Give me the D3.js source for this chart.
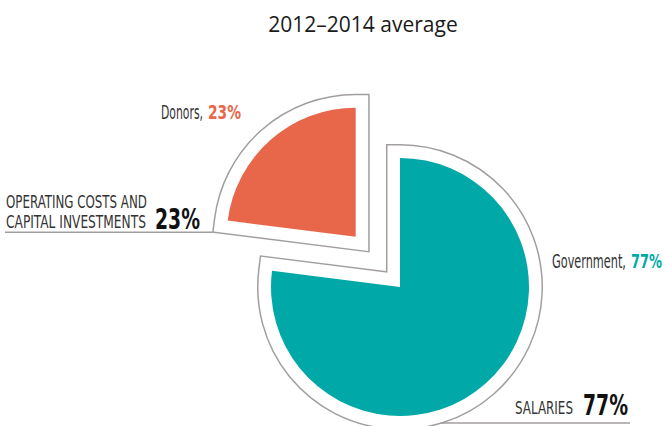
<!DOCTYPE html>
<html>
<head>
<meta charset="utf-8">
<script src="https://cdn.jsdelivr.net/npm/d3@7"></script>
<style>
  body { margin: 0; background: #fff; }
  .cond { font-family: "Liberation Sans Narrow", "DejaVu Sans Condensed", "Roboto", sans-serif; font-stretch: condensed; }
</style>
</head>
<body>
<div id="chart"></div>
<script>
// data
const sources = ['Government', 'Donors'];
const shares = [77, 23];
const uses = ['SALARIES', 'OPERATING COSTS AND CAPITAL INVESTMENTS'];
const colors = ['#00a9a8', '#e8674a'];
const explode = [0, 67];

const width = 666, height = 426;
const cx = 400, cy = 287, radius = 129;
const gap = 12.5;

const svg = d3.select('#chart').append('svg')
  .attr('width', width)
  .attr('height', height);

svg.append('text')
  .attr('x', 363).attr('y', 32)
  .attr('text-anchor', 'middle')
  .attr('font-family', '"Open Sans", sans-serif')
  .attr('font-size', 21)
  .attr('fill', '#1a1a1a')
  .text('2012\u20132014 average');

const pie = d3.pie().sort(null).value(d => d);
const arc = d3.arc().innerRadius(0).outerRadius(radius);
const arcs = pie(shares);

const g = svg.append('g').attr('transform', `translate(${cx},${cy})`);

const slice = g.selectAll('.slice')
  .data(arcs)
  .enter().append('g')
  .attr('class', 'slice')
  .attr('transform', (d, i) => {
    const mid = (d.startAngle + d.endAngle) / 2;
    return `translate(${Math.sin(mid) * explode[i]},${-Math.cos(mid) * explode[i]})`;
  });

// outline ring: grey stroke, white stroke on top, then the fill
slice.append('path')
  .attr('d', arc)
  .attr('fill', 'none')
  .attr('stroke', '#a39e9e')
  .attr('stroke-width', 2 * gap + 3)
  .attr('stroke-linejoin', 'miter')
  .attr('stroke-miterlimit', 10);
slice.append('path')
  .attr('d', arc)
  .attr('fill', 'none')
  .attr('stroke', '#fff')
  .attr('stroke-width', 2 * gap)
  .attr('stroke-linejoin', 'miter')
  .attr('stroke-miterlimit', 10);
slice.append('path')
  .attr('d', arc)
  .attr('fill', (d, i) => colors[i]);

// leader lines
const lineColor = '#a39e9e';
const don = arcs[1];
// salaries: along bottom of government outline
const yS = 423;
const dxS = Math.sqrt((radius + gap + 1) ** 2 - (yS - cy) ** 2);
svg.append('line')
  .attr('x1', cx + dxS - 2).attr('y1', yS)
  .attr('x2', 630).attr('y2', yS)
  .attr('stroke', lineColor).attr('stroke-width', 1.5);

// operating costs: left from donors outline corner
const midD = (don.startAngle + don.endAngle) / 2;
const ox = cx + Math.sin(midD) * explode[1], oy = cy - Math.cos(midD) * explode[1];
const a0 = don.startAngle;
const R = radius + gap + 1;
const px = ox + R * Math.sin(a0) - (gap + 1) * Math.cos(a0);
const py = oy - R * Math.cos(a0) - (gap + 1) * Math.sin(a0);
svg.append('line')
  .attr('x1', 5).attr('y1', py)
  .attr('x2', px).attr('y2', py)
  .attr('stroke', lineColor).attr('stroke-width', 1.5);

// labels: squeeze horizontally to imitate a condensed face
function label(x, y, txt, len, size, weight, fill) {
  const grp = svg.append('g');
  const t = grp.append('text')
    .attr('class', 'cond')
    .attr('font-size', size)
    .attr('font-weight', weight)
    .attr('fill', fill)
    .text(txt);
  const natural = t.node().getComputedTextLength();
  grp.attr('transform', `translate(${x},${y}) scale(${len / natural},1)`);
  return grp;
}

label(161, 119, sources[1] + ',', 42, 19, 'normal', '#333');
label(208, 119, shares[1] + '%', 33, 19, 'bold', colors[1]);

label(552, 268, sources[0] + ',', 74, 19, 'normal', '#333');
label(631, 268, shares[0] + '%', 31, 19, 'bold', colors[0]);

label(6, 208, 'OPERATING COSTS AND', 141, 18, 'normal', '#333');
label(6, 228, 'CAPITAL INVESTMENTS', 140, 18, 'normal', '#333');
label(155, 229, shares[1] + '%', 45, 28, 'bold', '#111');

label(515, 414, uses[0], 58, 18, 'normal', '#333');
label(583, 415, shares[0] + '%', 45, 28, 'bold', '#111');
</script>
</body>
</html>
